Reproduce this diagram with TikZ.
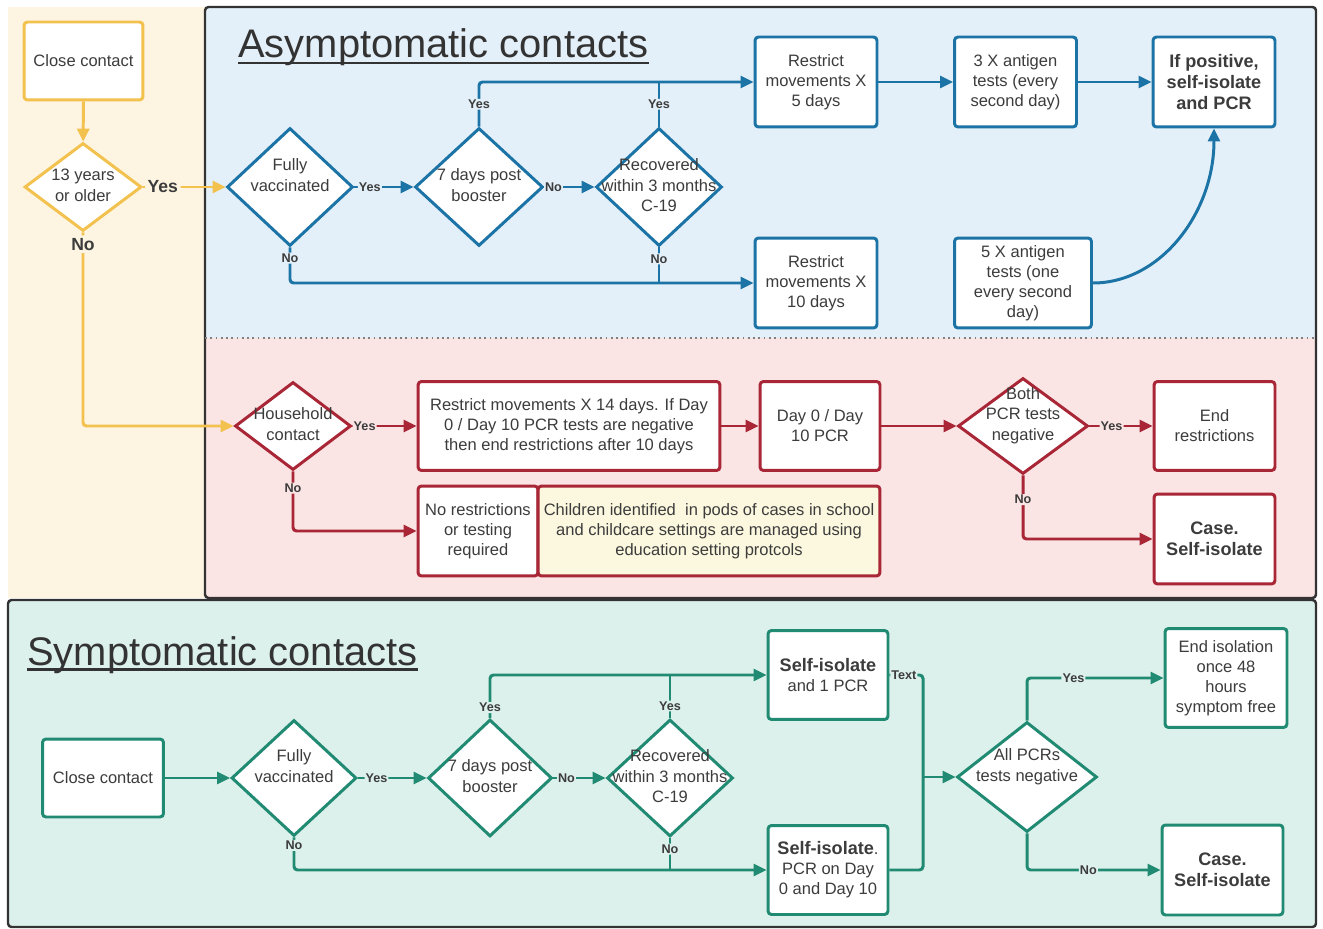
\documentclass[tikz,border=0pt]{standalone}
\usepackage{fontspec}
\setmainfont{Liberation Sans}
\usetikzlibrary{shapes.geometric,arrows.meta}

\definecolor{ylw}{HTML}{F2C14E}
\definecolor{ylwbg}{HTML}{FDF5E2}
\definecolor{blu}{HTML}{1C74A6}
\definecolor{blubg}{HTML}{E4F0F9}
\definecolor{rd}{HTML}{A82636}
\definecolor{rdbg}{HTML}{FBE4E4}
\definecolor{grn}{HTML}{218A72}
\definecolor{grnbg}{HTML}{DDF1EC}
\definecolor{kidsbg}{HTML}{FCF8DF}
\definecolor{ink}{HTML}{3C3C3C}
\definecolor{panelline}{HTML}{333333}

\newcommand{\dtxt}[1]{\makebox[0pt]{\begin{tabular}{@{}c@{}}#1\end{tabular}}}

\begin{document}
\begin{tikzpicture}[x=0.02cm, y=-0.02cm,
    every node/.style={text=ink},
    txt/.style={font=\fontsize{9.4}{11.4}\selectfont},
    boldtxt/.style={font=\bfseries\fontsize{10.3}{12}\selectfont},
    box/.style={txt, draw, line width=1.7pt, fill=white, rounded corners=2pt, align=center,
        minimum width=2.44cm, minimum height=1.8cm, inner sep=2pt},
    dia/.style={txt, draw, line width=1.7pt, fill=white, diamond, inner sep=0pt,
        minimum width=2.52cm, minimum height=2.36cm},
    link/.style={line width=1.7pt, rounded corners=2pt},
    arr/.style={link, -{Triangle[length=2.6mm,width=2.4mm]}},
    lab/.style={font=\bfseries\fontsize{7.2}{8}\selectfont, inner sep=0.6pt},
    biglab/.style={font=\bfseries\fontsize{10}{12}\selectfont, inner sep=1.5pt, fill=ylwbg}]
    \useasboundingbox (0,0) rectangle (1323,929);

    % panels
    \fill[ylwbg] (8,7) rectangle (210,598);
    \fill[blubg] (205,7) rectangle (1316,338);
    \fill[rdbg] (205,338) rectangle (1316,598);
    \draw[panelline, line width=1.4pt, rounded corners=2pt] (205,7) rectangle (1316,598);
    \draw[gray, dotted, line width=1pt] (205,338) -- (1316,338);
    \filldraw[fill=grnbg, draw=panelline, line width=1.4pt, rounded corners=2pt] (8,600) rectangle (1316,927);

    % titles
    \node[anchor=base west, inner sep=0pt, font=\fontsize{22.7}{26}\selectfont, text=panelline] (asy) at (238,58) {Asymptomatic contacts};
    \draw[panelline, line width=1.6pt] ([yshift=-2.8pt]asy.base west) -- ([yshift=-2.8pt]asy.base east);
    \node[anchor=base west, inner sep=0pt, font=\fontsize{22.7}{26}\selectfont, text=panelline] (sym) at (27,665) {Symptomatic contacts};
    \draw[panelline, line width=1.6pt] ([yshift=-2.5pt]sym.base west) -- ([yshift=-2.5pt]sym.base east);

    % close contact, age
    \node[box, draw=ylw, minimum width=2.38cm, minimum height=1.56cm] (cc1) at (83.5,61) {Close contact};
    \node[dia, draw=ylw, minimum width=2.34cm, minimum height=1.76cm] (ty) at (83,187) {\dtxt{13 years\\or older}};

    % asymptomatic
    \node[dia, draw=blu] (fv) at (290,187) {\dtxt{Fully\\vaccinated\\\mbox{}}};
    \node[dia, draw=blu, minimum width=2.56cm] (bst) at (479,187) {\dtxt{7 days post\\booster}};
    \node[dia, draw=blu] (rec) at (659,187) {\dtxt{Recovered\\within 3 months\\C-19}};
    \node[box, draw=blu] (r5) at (816,82) {Restrict\\movements X\\5 days};
    \node[box, draw=blu] (ant3) at (1015.5,82) {3 X antigen\\tests (every\\second day)};
    \node[box, boldtxt, draw=blu] (pos) at (1214,82) {If positive,\\self-isolate\\and PCR};
    \node[box, draw=blu] (r10) at (816,283) {Restrict\\movements X\\10 days};
    \node[box, draw=blu, minimum width=2.74cm] (ant5) at (1023,283) {5 X antigen\\tests (one\\every second\\day)};

    % household
    \node[dia, draw=rd, minimum width=2.32cm, minimum height=1.76cm] (hh) at (293,426) {\dtxt{Household\\contact}};
    \node[box, draw=rd, minimum width=6.04cm, minimum height=1.78cm] (r14) at (569,426) {Restrict movements X 14 days. If Day\\0 / Day 10 PCR tests are negative\\then end restrictions after 10 days};
    \node[box, draw=rd, minimum width=2.4cm, minimum height=1.78cm] (pcr) at (820,426) {Day 0 / Day\\10 PCR};
    \node[dia, draw=rd, minimum width=2.6cm, minimum height=1.92cm] (both) at (1023,426) {\dtxt{Both\\PCR tests\\negative\\\mbox{}}};
    \node[box, draw=rd, minimum width=2.42cm, minimum height=1.78cm] (endr) at (1214.5,426) {End\\restrictions};
    \node[box, boldtxt, draw=rd, minimum width=2.42cm] (case1) at (1214.5,539) {Case.\\Self-isolate};
    \node[box, draw=rd, minimum width=2.4cm] (nores) at (478,531) {No restrictions\\or testing\\required};
    \node[box, draw=rd, fill=kidsbg, minimum width=6.84cm] (kids) at (709,531) {Children identified~ in pods of cases in school\\and childcare settings are managed using\\education setting protcols};

    % symptomatic
    \node[box, draw=grn, minimum width=2.42cm, minimum height=1.56cm] (cc2) at (103,778) {Close contact};
    \node[dia, draw=grn, minimum width=2.5cm, minimum height=2.32cm] (fv2) at (294,778) {\dtxt{Fully\\vaccinated\\\mbox{}}};
    \node[dia, draw=grn, minimum width=2.48cm, minimum height=2.34cm] (bst2) at (490,778) {\dtxt{7 days post\\booster}};
    \node[dia, draw=grn, minimum width=2.52cm, minimum height=2.34cm] (rec2) at (670,778) {\dtxt{Recovered\\within 3 months\\C-19}};
    \node[box, draw=grn, minimum width=2.4cm, minimum height=1.78cm] (si1) at (828,675) {{\bfseries\fontsize{10.3}{12}\selectfont Self-isolate}\\and 1 PCR};
    \node[box, draw=grn, minimum width=2.4cm, minimum height=1.78cm] (si2) at (828,870) {{\bfseries\fontsize{10.3}{12}\selectfont Self-isolate}.\\PCR on Day\\0 and Day 10};
    \node[dia, draw=grn, minimum width=2.8cm, minimum height=2.2cm] (allp) at (1027,777) {\dtxt{All PCRs\\tests negative\\\mbox{}}};
    \node[box, draw=grn, minimum width=2.44cm, minimum height=1.98cm] (endi) at (1226,678) {End isolation\\once 48\\hours\\symptom free};
    \node[box, boldtxt, draw=grn, minimum width=2.42cm] (case2) at (1222.5,870) {Case.\\Self-isolate};

    % yellow links
    \draw[arr, ylw] (cc1) -- (ty);
    \draw[arr, ylw] (ty.east) -- node[biglab, pos=0.24]{Yes} (fv.west);
    \draw[arr, ylw] (ty.south) |- node[biglab, pos=0.03]{No} (hh.west);

    % blue links
    \draw[arr, blu] (fv.east) -- node[lab, fill=blubg, pos=0.26]{Yes} (bst.west);
    \draw[arr, blu] (bst.east) -- node[lab, fill=blubg, pos=0.18]{No} (rec.west);
    \draw[arr, blu] (bst.north) |- node[lab, fill=blubg, pos=0.25]{Yes} (r5.west);
    \draw[link, blu] (rec.north) -- node[lab, fill=blubg]{Yes} (rec.north |- r5.west);
    \draw[arr, blu] (fv.south) |- node[lab, fill=blubg, pos=0.15]{No} (r10.west);
    \draw[link, blu] (rec.south) -- node[lab, fill=blubg, pos=0.32]{No} (rec.south |- r10.west);
    \draw[arr, blu] (r5) -- (ant3);
    \draw[arr, blu] (ant3) -- (pos);
    \draw[arr, blu] (ant5.east) .. controls +(67,0) and +(0,85) .. (pos.south);

    % red links
    \draw[arr, rd] (hh.east) -- node[lab, fill=rdbg, pos=0.19]{Yes} (r14.west);
    \draw[arr, rd] (r14) -- (pcr);
    \draw[arr, rd] (pcr) -- (both);
    \draw[arr, rd] (both.east) -- node[lab, fill=rdbg, pos=0.35]{Yes} (endr.west);
    \draw[arr, rd] (both.south) |- node[lab, fill=rdbg, pos=0.19]{No} (case1.west);
    \draw[arr, rd] (hh.south) |- node[lab, fill=rdbg, pos=0.14]{No} (nores.west);

    % green links
    \draw[arr, grn] (cc2) -- (fv2);
    \draw[arr, grn] (fv2.east) -- node[lab, fill=grnbg, pos=0.27]{Yes} (bst2.west);
    \draw[arr, grn] (bst2.east) -- node[lab, fill=grnbg, pos=0.25]{No} (rec2.west);
    \draw[arr, grn] (bst2.north) |- node[lab, fill=grnbg, pos=0.12]{Yes} (si1.west);
    \draw[link, grn] (rec2.north) -- node[lab, fill=grnbg, pos=0.28]{Yes} (rec2.north |- si1.west);
    \draw[arr, grn] (fv2.south) |- node[lab, fill=grnbg, pos=0.12]{No} (si2.west);
    \draw[link, grn] (rec2.south) -- node[lab, fill=grnbg, pos=0.35]{No} (rec2.south |- si2.west);
    \coordinate (join) at (923,777);
    \draw[link, grn] (si1.east) -- node[lab, fill=grnbg, pos=0.43]{Text} (si1.east -| join) -- (si2.east -| join) -- (si2.east);
    \draw[arr, grn] (join) -- (allp.west);
    \draw[arr, grn] (allp.north) |- node[lab, fill=grnbg, pos=0.67]{Yes} (endi.west);
    \draw[arr, grn] (allp.south) |- node[lab, fill=grnbg, pos=0.73]{No} (case2.west);
\end{tikzpicture}
\end{document}
